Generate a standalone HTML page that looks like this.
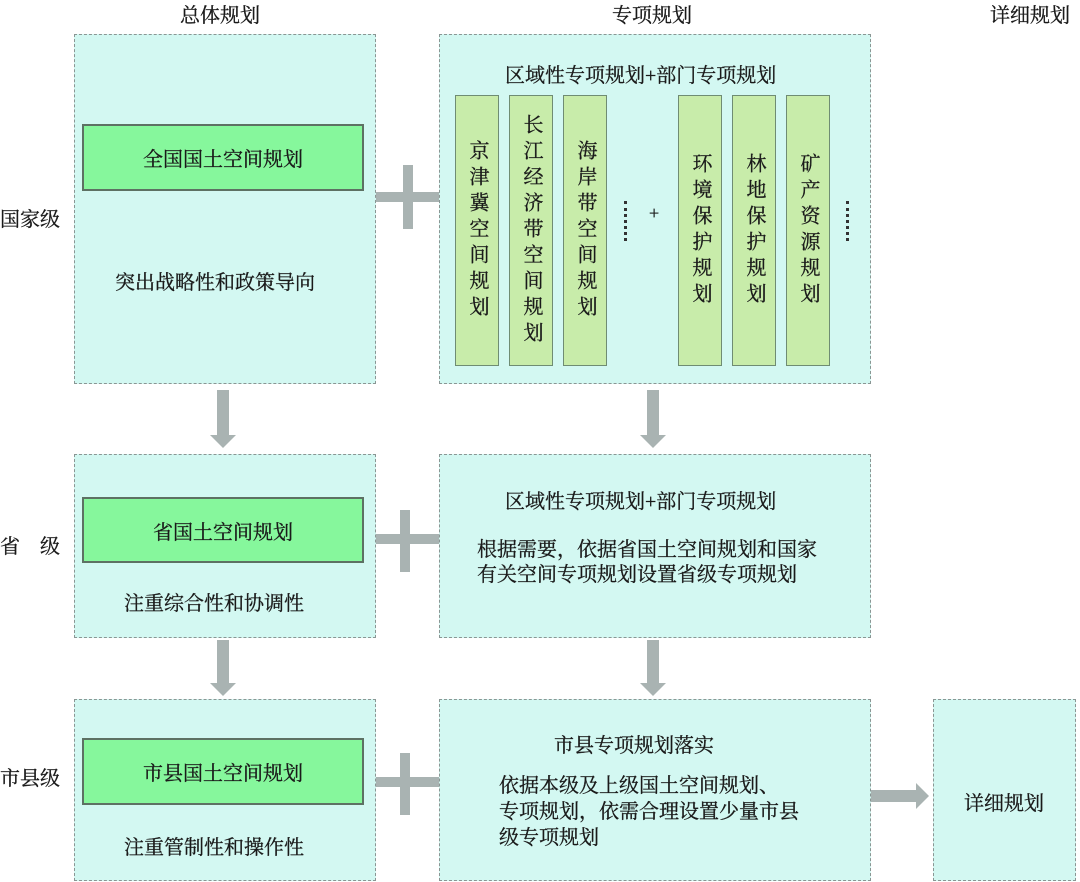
<!DOCTYPE html>
<html><head><meta charset="utf-8"><style>
body{margin:0;width:1080px;height:882px;background:#fff;position:relative;overflow:hidden;font-family:"Liberation Serif","Noto Serif CJK SC",serif;color:#1a1a1a;}
.a{position:absolute}
.p{position:absolute;background:#d3f8f2;border:1.5px dashed #8a9694;box-sizing:border-box}
.g{position:absolute;background:#86f79c;border:2px solid #5d7163;box-sizing:border-box;display:flex;align-items:center;justify-content:center;font-size:20px;-webkit-text-stroke:0.3px #1a1a1a}
.c{position:absolute;background:#c8ecaa;border:1.5px solid #6f8c73;box-sizing:border-box;top:95px;height:271px;width:44px;display:flex;align-items:center;justify-content:center;writing-mode:vertical-rl;font-size:20px;letter-spacing:6px;line-height:1;-webkit-text-stroke:0.3px #1a1a1a}
.t{position:absolute;font-size:20px;white-space:nowrap;-webkit-text-stroke:0.3px #1a1a1a}
.bar{position:absolute;background:#a9b3b2}
</style></head><body>
<div class="t" style="left:180px;top:-1px">总体规划</div>
<div class="t" style="left:612px;top:-1px">专项规划</div>
<div class="t" style="left:990px;top:-1px">详细规划</div>
<div class="t" style="left:0px;top:203px">国家级</div>
<div class="t" style="left:0px;top:530px">省　级</div>
<div class="t" style="left:0px;top:762px">市县级</div>

<div class="p" style="left:74px;top:34px;width:302px;height:350px"></div>
<div class="g" style="left:82px;top:124px;width:282px;height:67px">全国国土空间规划</div>
<div class="t" style="left:115px;top:266px">突出战略性和政策导向</div>

<div class="p" style="left:439px;top:34px;width:432px;height:350px"></div>
<div class="t" style="left:505px;top:59px">区域性专项规划+部门专项规划</div>
<div class="c" style="left:455px">京津冀空间规划</div>
<div class="c" style="left:509px">长江经济带空间规划</div>
<div class="c" style="left:563px">海岸带空间规划</div>
<div class="c" style="left:678px">环境保护规划</div>
<div class="c" style="left:732px">林地保护规划</div>
<div class="c" style="left:786px">矿产资源规划</div>
<div class="a" style="left:624px;top:201px;width:3px;height:40px;border-left:3px dotted #333"></div>
<div class="a" style="left:846px;top:201px;width:3px;height:40px;border-left:3px dotted #333"></div>
<div class="t" style="left:649px;top:203px;font-size:18px">+</div>

<div class="p" style="left:74px;top:454px;width:302px;height:184px"></div>
<div class="g" style="left:82px;top:497px;width:282px;height:66px">省国土空间规划</div>
<div class="t" style="left:124px;top:587px">注重综合性和协调性</div>

<div class="p" style="left:439px;top:454px;width:432px;height:184px"></div>
<div class="t" style="left:505px;top:485px">区域性专项规划+部门专项规划</div>
<div class="t" style="left:477px;top:538px;line-height:25px">根据需要，依据省国土空间规划和国家<br>有关空间专项规划设置省级专项规划</div>

<div class="p" style="left:74px;top:699px;width:302px;height:182px"></div>
<div class="g" style="left:82px;top:738px;width:282px;height:67px">市县国土空间规划</div>
<div class="t" style="left:124px;top:831px">注重管制性和操作性</div>

<div class="p" style="left:439px;top:699px;width:432px;height:182px"></div>
<div class="t" style="left:554px;top:729px">市县专项规划落实</div>
<div class="t" style="left:499px;top:773px;line-height:26px">依据本级及上级国土空间规划、<br>专项规划，依需合理设置少量市县<br>级专项规划</div>

<div class="p" style="left:933px;top:699px;width:143px;height:182px"></div>
<div class="t" style="left:964px;top:787px">详细规划</div>

<div class="bar" style="left:376px;top:192px;width:63px;height:10px"></div>
<div class="bar" style="left:403px;top:165px;width:10px;height:64px"></div>
<div class="bar" style="left:376px;top:534px;width:63px;height:10px"></div>
<div class="bar" style="left:400px;top:510px;width:10px;height:62px"></div>
<div class="bar" style="left:376px;top:777px;width:63px;height:10px"></div>
<div class="bar" style="left:400px;top:753px;width:10px;height:62px"></div>

<svg class="a" style="left:0;top:0" width="1080" height="882">
<g fill="#a9b3b2">
<rect x="217" y="390" width="12" height="46"/><polygon points="210,435 236,435 223,448"/>
<rect x="647" y="390" width="12" height="46"/><polygon points="640,435 666,435 653,448"/>
<rect x="217" y="640" width="12" height="44"/><polygon points="210,683 236,683 223,696"/>
<rect x="647" y="640" width="12" height="44"/><polygon points="640,683 666,683 653,696"/>
<rect x="871" y="790" width="46" height="12"/><polygon points="916,783 916,809 929,796"/>
</g></svg>
</body></html>
